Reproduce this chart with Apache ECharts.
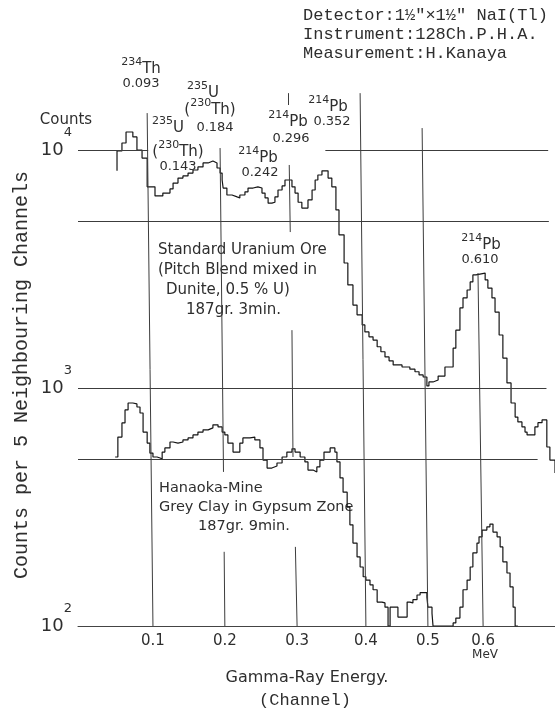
<!DOCTYPE html>
<html><head><meta charset="utf-8">
<script src="https://cdn.jsdelivr.net/npm/echarts@6/dist/echarts.min.js"></script>
<style>html,body{margin:0;padding:0;background:#fff}#c{width:555px;height:711px}</style>
</head><body><div id="c"></div>
<script>
// ---- data (channel position, counts per 5 neighbouring channels) ----
const upperChannels = [11.45,11.45,12.9,14.1,16.1,17.3,18.8,20.3,22.6,24.9,27.0,27.9,29.35,30.8,32.3,33.75,35.2,36.7,38.2,39.6,40.8,41.7,42.3,42.6,43.7,45.2,46.7,47.5,49.0,49.9,51.4,52.8,54.0,54.9,55.8,56.9,57.8,58.7,59.9,60.75,62.8,63.7,64.6,65.7,67.5,68.7,69.6,70.4,71.6,73.4,74.5,75.7,76.6,78.1,79.2,80.7,81.9,83.4,84.2,85.4,86.6,87.8,88.9,90.1,91.3,92.5,95.1,97.4,98.9,100.1,101.3,102.4,103.0,104.2,105.7,107.7,110.1,110.9,112.1,113.0,114.2,115.1,115.9,116.8,119.5,120.3,121.5,122.4,123.6,124.7,125.9,127.1,128.3,129.1,130.3,131.2,131.8,134.1,135.0,136.2,137.6,138.5,140.0];
const upperCounts = [8170,9910,10700,11900,11350,10000,9250,7000,6410,6590,6860,7260,7620,7780,8000,8240,8490,8820,8990,8820,8400,8000,7480,6920,6470,6350,6290,6470,6670,6920,7000,6920,6590,6290,5980,6030,6350,6790,7060,7480,7000,6590,6030,5700,6170,6790,7480,7850,8170,7620,7000,5600,4400,3350,2710,2230,2030,1840,1720,1640,1590,1490,1420,1350,1300,1250,1225,1200,1170,1135,1112,1020,1060,1080,1122,1225,1470,1750,2170,2390,2580,2790,2985,3040,2845,2630,2390,2085,1670,1335,1050,865,755,720,686,653,635,686,715,734,565,498,439];
const lowerChannels = [10.9,11.7,12.9,13.8,14.7,16.1,17.3,18.2,19.1,20.3,21.1,22.0,23.2,24.1,24.7,25.5,27.0,27.9,29.35,30.8,32.3,33.75,35.2,36.7,38.2,39.6,41.1,42.3,43.1,44.0,45.5,47.5,48.4,50.5,51.9,53.4,54.3,55.5,56.9,58.4,59.9,61.3,62.8,63.7,65.2,66.6,67.5,69.0,70.1,71.0,72.2,74.0,75.4,76.0,76.9,77.8,79.0,79.8,80.7,81.9,82.8,83.7,84.5,85.7,86.6,87.8,89.2,90.1,91.0,91.6,93.9,96.6,97.4,98.3,99.5,100.4,102.4,102.7,103.9,104.2,110.1,110.9,112.1,113.0,114.2,115.1,115.9,117.1,117.7,118.6,120.0,120.9,121.8,123.0,123.9,124.7,125.9,126.8,127.7,128.3,129.1];
const lowerCounts = [513,622,713,809,865,857,832,785,653,587,533,513,508,503,538,560,593,587,593,605,617,635,653,667,680,700,686,653,635,587,538,587,617,622,605,560,498,461,470,484,513,538,555,538,513,489,452,444,466,498,538,560,538,489,419,365,316,266,223,195,177,161,156,149,142,126,125,120,100,120,109,126,125,129,135,138,132,120,113,100,103,108,120,142,156,177,203,223,237,253,261,268,248,237,215,186,167,146,120,100,100];
// energy tick labels and the channel where each sits
const energyTickChannels = [22.0, 43.1, 64.3, 84.5, 102.7, 118.9];
const energyTickLabels = ['0.1','0.2','0.3','0.4','0.5','0.6'];
const countTicks = [100, 1000, 10000];
// hand-drawn guide lines (data coordinates)
const hLineCounts = [10000, 10000, 5000, 1000, 500];
const hLineFrom   = [0, 72.6, 0, 0, 0];
const hLineTo     = [20.6, 138.0, 138.2, 137.5, 134.9];
const vSegments = [
  [20.3,14290,22.0,100],
  [41.7,10190,42.7,444],[42.9,205,43.1,100],
  [61.6,17330,61.7,15450],[62.0,8650,62.3,4520],[62.8,1750,63.1,513],[63.8,215,64.3,100],
  [82.8,17330,84.5,100],
  [101.0,12360,102.7,100],
  [117.4,3040,118.9,100]
];

const X_MAX = 140, Y_MAX = 17865;
const hand = "'DejaVu Sans', sans-serif";
const mono = "'Liberation Mono', 'DejaVu Sans Mono', monospace";
const ink = '#2e2e2e';

const chart = echarts.init(document.getElementById('c'));
const seg = (a, b) => [{coord: a}, {coord: b}];
const guideData = [];
hLineCounts.forEach((c, i) => guideData.push(seg([hLineFrom[i], c], [hLineTo[i], c])));
vSegments.forEach(s => guideData.push(seg([s[0], s[1]], [s[2], s[3]])));

const supRich = {
  b: {fontSize: 15, lineHeight: 24, fontFamily: hand, color: ink},
  s: {fontSize: 11, lineHeight: 11, verticalAlign: 'top', fontFamily: hand, color: ink}
};
function txt(x, y, text, o) {
  o = o || {};
  return {
    type: 'text', x: x, y: y, rotation: o.rot || 0, silent: true,
    style: {
      text: text, fill: ink,
      font: (o.size || 15) + 'px ' + (o.family || hand),
      align: o.align || 'left', verticalAlign: 'middle',
      rich: o.rich
    }
  };
}
function sup(x, y, text) { return txt(x, y, text, {align: 'center', rich: supRich}); }
function num(x, y, text) { return txt(x, y, text, {align: 'center', size: 13}); }

const graphics = [
  txt(303, 15, 'Detector:1½"×1½" NaI(Tl)', {family: mono, size: 17}),
  txt(303, 34, 'Instrument:128Ch.P.H.A.', {family: mono, size: 17}),
  txt(303, 53, 'Measurement:H.Kanaya', {family: mono, size: 17}),
  txt(66, 120, 'Counts', {align: 'center', size: 15}),
  txt(22, 375, 'Counts per 5 Neighbouring Channels', {align: 'center', family: mono, size: 20, rot: Math.PI / 2}),
  txt(307, 678, 'Gamma-Ray Energy.', {align: 'center', size: 16}),
  txt(305, 700, '(Channel)', {align: 'center', family: mono, size: 17}),
  txt(485, 655, 'MeV', {align: 'center', size: 12}),
  txt(158, 250, 'Standard Uranium Ore', {size: 15}),
  txt(158, 270, '(Pitch Blend mixed in', {size: 15}),
  txt(166, 290, 'Dunite, 0.5 % U)', {size: 15}),
  txt(186, 310, '187gr. 3min.', {size: 15}),
  txt(159, 488, 'Hanaoka-Mine', {size: 14.5}),
  txt(159, 507, 'Grey Clay in Gypsum Zone', {size: 14.5}),
  txt(198, 526, '187gr. 9min.', {size: 14.5}),
  sup(141, 69, '{s|234}{b|Th}'), num(141, 84, '0.093'),
  sup(203, 93, '{s|235}{b|U}'), sup(210, 110, '{b|(}{s|230}{b|Th)}'), num(215, 128, '0.184'),
  sup(168, 128, '{s|235}{b|U}'), sup(178, 152, '{b|(}{s|230}{b|Th)}'), num(178, 167, '0.143'),
  sup(258, 158, '{s|214}{b|Pb}'), num(260, 173, '0.242'),
  sup(288, 122, '{s|214}{b|Pb}'), num(291, 139, '0.296'),
  sup(328, 107, '{s|214}{b|Pb}'), num(332, 122, '0.352'),
  sup(481, 245, '{s|214}{b|Pb}'), num(480, 260, '0.610')
];

chart.setOption({
  animation: false,
  backgroundColor: '#fff',
  grid: {left: 78, right: 0, top: 90, bottom: 85},
  xAxis: {
    type: 'value', min: 0, max: X_MAX,
    splitLine: {show: false},
    axisTick: {show: false},
    axisLine: {show: true, lineStyle: {color: '#444', width: 1}},
    axisLabel: {
      customValues: energyTickChannels,
      margin: 8, fontSize: 15, fontFamily: hand, color: ink,
      formatter: v => {
        const i = energyTickChannels.findIndex(c => Math.abs(c - v) < 1e-6);
        return i >= 0 ? energyTickLabels[i] : '';
      }
    }
  },
  yAxis: {
    type: 'log', logBase: 10, min: countTicks[0], max: Y_MAX,
    splitLine: {show: false}, axisTick: {show: false}, axisLine: {show: false},
    axisLabel: {
      margin: 6, showMaxLabel: false,
      formatter: v => {
        const e = Math.round(Math.log10(v));
        if (Math.abs(Math.log10(v) - e) > 1e-6 || countTicks.indexOf(Math.pow(10, e)) < 0) return '';
        return '{b|10}{s|' + e + '}';
      },
      rich: {
        b: {fontSize: 18, lineHeight: 48, fontFamily: hand, color: ink},
        s: {fontSize: 13, lineHeight: 13, verticalAlign: 'top', fontFamily: hand, color: ink}
      }
    }
  },
  series: [
    {
      name: 'Standard Uranium Ore', type: 'line', step: 'end', symbol: 'none',
      data: upperChannels.map((c, i) => [c, upperCounts[i]]),
      lineStyle: {color: '#151515', width: 1.2}, z: 3,
      markLine: {
        silent: true, symbol: ['none', 'none'], label: {show: false},
        lineStyle: {color: '#3c3c3c', width: 1, type: 'solid'},
        emphasis: {disabled: true},
        data: guideData
      }
    },
    {
      name: 'Hanaoka-Mine', type: 'line', step: 'end', symbol: 'none',
      data: lowerChannels.map((c, i) => [c, lowerCounts[i]]),
      lineStyle: {color: '#151515', width: 1.2}, z: 3
    }
  ],
  graphic: graphics
});
</script>
</body></html>
